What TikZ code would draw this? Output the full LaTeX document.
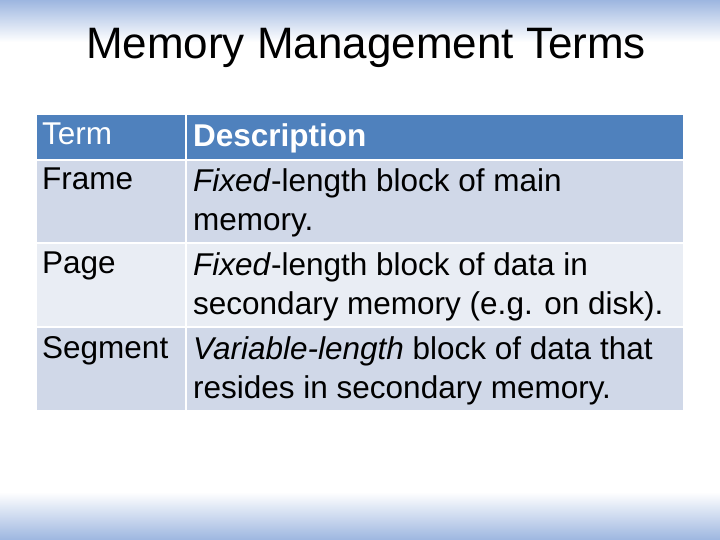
\documentclass[tikz,border=0pt]{standalone}
\usepackage{fontspec}
\setmainfont{Liberation Sans}
\definecolor{headblue}{HTML}{4F81BD}
\definecolor{rowdark}{HTML}{D0D8E8}
\definecolor{rowlight}{HTML}{E9EDF4}
\definecolor{barblue}{HTML}{9DB6E0}
\tikzset{
  cell/.style={anchor=north west, align=left, inner sep=0pt,
    font=\fontsize{31.5}{39}\selectfont, text=black},
  headcell/.style={cell, text=white},
}
\begin{document}
\begin{tikzpicture}[x=1pt,y=-1pt]
\useasboundingbox (0,0) rectangle (720,540);
% background bars
\shade[top color=barblue, bottom color=white] (0,0) rectangle (720,42);
\shade[top color=white, bottom color=barblue] (0,492) rectangle (720,540);
\node (title) at (366,48) {\fontsize{44}{50}\selectfont Memory Management Terms};
% table cells
\fill[headblue] (37,115) rectangle (683,160);
\fill[rowdark] (37,160) rectangle (683,243);
\fill[rowlight] (37,243) rectangle (683,327);
\fill[rowdark] (37,327) rectangle (683,410);
\draw[white, line width=2.5] (186,115) -- (186,410);
\foreach \y in {160,243,327} { \draw[white, line width=1.5] (37,\y) -- (683,\y); }
% texts
\node[headcell] (term) at (42,123) {Term};
\node[headcell] (desc) at (193,123) {\bfseries Description};
\node[cell] (frame) at (42,168) {Frame};
\node[cell] (framedesc) at (193,168) {\textit{Fixed}-length block of main\\memory.};
\node[cell] (page) at (42,252) {Page};
\node[cell] (pagedesc) at (193,252) {\textit{Fixed}-length block of data in\\secondary memory (e.g. on disk).};
\node[cell] (segment) at (42,336) {Segment};
\node[cell] (segdesc) at (193,336) {\textit{Variable-length} block of data that\\resides in secondary memory.};
\end{tikzpicture}
\end{document}
